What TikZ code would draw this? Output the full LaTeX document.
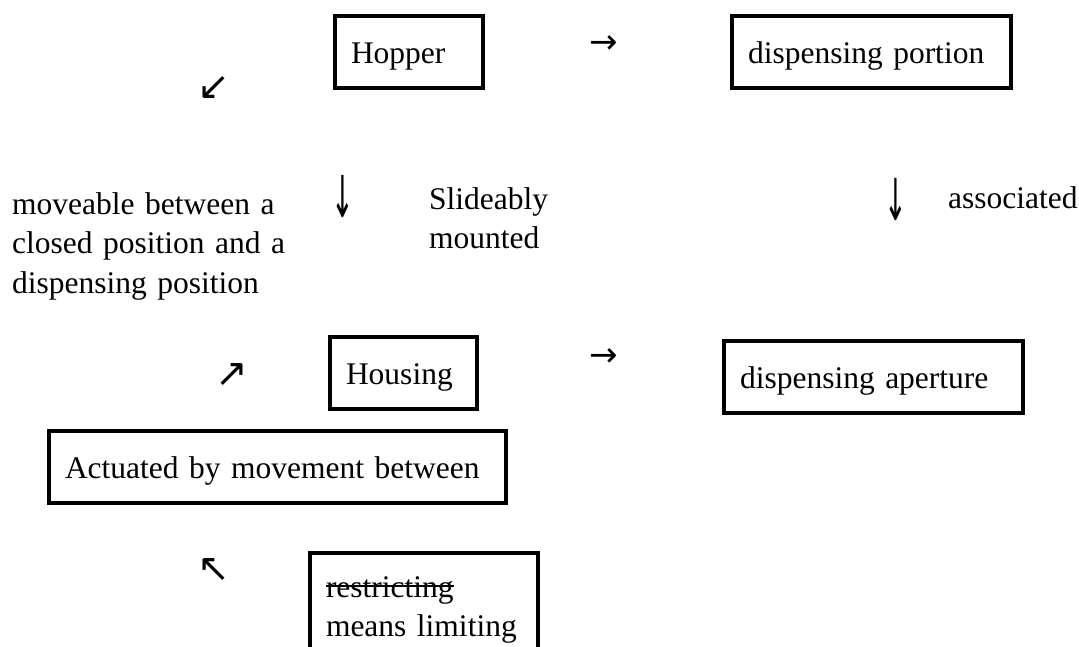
\documentclass[tikz,border=0pt]{standalone}
\usepackage{fontspec}
\setmainfont{Liberation Serif}
\newfontfamily\arrowfont{DejaVu Sans}
\newlength\strikelen
\newcommand\strikeword[1]{\settowidth{\strikelen}{#1}\rlap{\rule[0.32em]{\strikelen}{1.8pt}}#1}
\begin{document}
\begin{tikzpicture}[x=1pt, y=-1pt, font=\fontsize{31.5}{39.5}\selectfont,
  box/.style={draw, line width=4pt, anchor=north west, inner xsep=16pt, inner ysep=0pt,
    align=left, text height=47pt, text depth=25pt, text width=#1},
  note/.style={anchor=base west, inner sep=0pt, align=left},
  glyph/.style={inner sep=0pt, font=\arrowfont\fontsize{#1}{#1}\selectfont},
  glyph/.default=34]

\useasboundingbox (0,0) rectangle (1079,646);

\node[box=116pt] (hopper) at (333,14) {Hopper};
\node[box=247pt] (portion) at (730,14) {dispensing portion};
\node[box=115pt] (housing) at (328,335) {Housing};
\node[box=267pt] (aperture) at (722,339) {dispensing aperture};
\node[box=425pt] (actuated) at (47,429) {Actuated by movement between};
\node[box=196pt, text height=44pt, text depth=60pt] (restrict) at (308,551)
  {\strikeword{restricting}\\means limiting};

\node[note, text width=330pt] (moveable) at (12,214)
  {moveable between a\\closed position and a\\dispensing position};
\node[note, text width=160pt] (slide) at (429,209) {Slideably\\mounted};
\node[note] (assoc) at (948,208) {associated};

\node[glyph] (arrSW) at (214,88) {\scalebox{1.15}{↙}};
\node[glyph] (arrPortion) at (604,45) {→};
\node[glyph] (arrSlide) at (343,197) {\scalebox{0.8}[1.7]{↓}};
\node[glyph] (arrAssoc) at (896,200) {\scalebox{0.8}[1.7]{↓}};
\node[glyph] (arrNE) at (232,375) {\scalebox{1.15}{↗}};
\node[glyph] (arrAperture) at (604,358) {→};
\node[glyph] (arrNW) at (214,570) {\scalebox{1.15}{↖}};

\end{tikzpicture}
\end{document}
